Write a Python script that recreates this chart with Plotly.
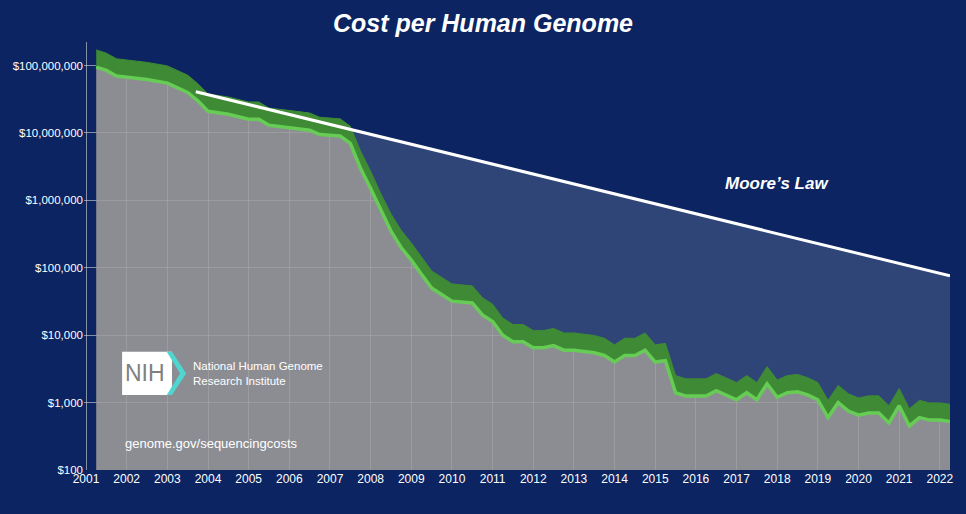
import plotly.graph_objects as go
import math

years = [2001.25,2001.5,2001.75,2002,2002.5,2003,2003.5,2003.75,2004,2004.5,2005,2005.25,2005.5,2006,2006.5,2006.75,2007.25,2007.5,
         2007.75,2008,2008.25,2008.5,2008.75,2009,2009.25,2009.5,2010,2010.5,2010.75,2011,2011.25,2011.5,2011.75,2012,2012.25,
         2012.5,2012.75,2013,2013.5,2013.75,2014,2014.25,2014.5,2014.75,2015,2015.25,2015.5,2015.75,2016,2016.25,2016.5,2016.75,
         2017,2017.25,2017.5,2017.75,2018,2018.25,2018.5,2018.75,2019,2019.25,2019.5,2019.75,2020,2020.25,2020.5,2020.75,2021,
         2021.25,2021.5,2021.75,2022,2022.25]
cost = [95e6,85e6,70e6,67e6,62e6,55e6,40e6,30e6,21e6,19e6,16e6,16e6,13e6,12e6,11e6,9.5e6,9e6,7e6,
        3e6,1.5e6,700e3,350e3,200e3,130e3,80e3,50e3,32e3,30e3,20e3,16e3,10e3,8e3,8e3,6.5e3,6.5e3,
        7e3,6e3,6e3,5.5e3,5e3,4e3,5e3,5e3,6e3,4e3,4.2e3,1.4e3,1.25e3,1.25e3,1.25e3,1.5e3,1.3e3,
        1.1e3,1.4e3,1.1e3,1.9e3,1.2e3,1.4e3,1.45e3,1.3e3,1.1e3,600,1e3,750,650,700,700,500,900,
        450,600,550,550,525]
moore_x = [2003.7, 2022.25]
moore_y = [41e6, 76e3]
band_factor = 1.8
tick_vals = [1e2,1e3,1e4,1e5,1e6,1e7,1e8]
tick_text = ["$100","$1,000","$10,000","$100,000","$1,000,000","$10,000,000","$100,000,000"]
year_ticks = list(range(2001, 2023))

navy = "#0c2461"
fig = go.Figure()
fig.add_trace(go.Scatter(x=years, y=[100]*len(years), mode="lines", line=dict(width=0), hoverinfo="skip"))
fig.add_trace(go.Scatter(x=years, y=cost, mode="lines", line=dict(width=0), fill="tonexty",
                         fillcolor="rgba(160,157,155,0.87)", hoverinfo="skip"))
fig.add_trace(go.Scatter(x=years, y=[1e9]*len(years), mode="lines", line=dict(width=0), fill="tonexty",
                         fillcolor=navy, hoverinfo="skip"))
def moore(x):
    t = (x - moore_x[0]) / (moore_x[1] - moore_x[0])
    return 10 ** (math.log10(moore_y[0]) + t * (math.log10(moore_y[1]) - math.log10(moore_y[0])))
mx = [x for x in years if x >= moore_x[0]]
mdat = [c for x, c in zip(years, cost) if x >= moore_x[0]]
fig.add_trace(go.Scatter(x=mx, y=mdat, mode="lines", line=dict(width=0), hoverinfo="skip"))
fig.add_trace(go.Scatter(x=mx, y=[moore(x) for x in mx], mode="lines", line=dict(width=0), fill="tonexty",
                         fillcolor="#2f4577", hoverinfo="skip"))
fig.add_trace(go.Scatter(x=years, y=cost, mode="lines", line=dict(width=0), hoverinfo="skip"))
fig.add_trace(go.Scatter(x=years, y=[c * band_factor for c in cost], mode="lines",
                         line=dict(width=1, color="#3f8a35"), fill="tonexty", fillcolor="#3f8a35", hoverinfo="skip"))
fig.add_trace(go.Scatter(x=years, y=cost, mode="lines", line=dict(width=3.5, color="#66cc55"), hoverinfo="skip"))
fig.add_trace(go.Scatter(x=moore_x, y=moore_y, mode="lines", line=dict(width=3, color="white"), hoverinfo="skip"))

grid = "rgba(215,215,215,0.6)"
fig.update_layout(
    width=966, height=514, showlegend=False,
    paper_bgcolor=navy, plot_bgcolor=navy,
    margin=dict(l=84, r=16, t=42, b=44),
    font=dict(family="Liberation Sans, Arial, sans-serif", color="white", size=12),
    title=dict(text="<b><i>Cost per Human Genome</i></b>", x=0.5, xanchor="center", y=0.955, yanchor="middle",
               font=dict(size=25, color="white")),
    xaxis=dict(range=[2000.95, 2022.25], tickvals=year_ticks, showgrid=True, gridcolor=grid, gridwidth=1,
               zeroline=False, ticks="", automargin=False, tickfont=dict(size=12, color="white")),
    yaxis=dict(type="log", range=[2, 8.35], tickvals=tick_vals, ticktext=tick_text, showgrid=True,
               gridcolor=grid, gridwidth=1, zeroline=False, ticks="", automargin=False,
               tickfont=dict(size=11.5, color="white")),
)
fig.add_annotation(text="<b><i>Moore’s Law</i></b>", x=2018.0, y=6.255, showarrow=False,
                   font=dict(size=17, color="white"))
fig.add_annotation(text="genome.gov/sequencingcosts", xref="paper", yref="paper", x=0.045, y=0.04,
                   xanchor="left", showarrow=False, font=dict(size=13, color="white"))
fig.add_shape(type="rect", xref="paper", yref="paper", x0=0.044, x1=0.1016, y0=0.175, y1=0.276,
              fillcolor="white", line=dict(width=0), layer="above")
fig.add_shape(type="path", xref="paper", yref="paper",
              path="M 0.1016 0.276 L 0.118 0.2255 L 0.1016 0.175 L 0.0955 0.175 L 0.111 0.2255 L 0.0955 0.276 Z",
              fillcolor="#4fd6d0", line=dict(width=0), layer="above")
fig.add_annotation(text="NIH", xref="paper", yref="paper", x=0.045, y=0.2255, xanchor="left", yanchor="middle",
                   showarrow=False, font=dict(size=23, color="#808080"))
fig.add_annotation(text="National Human Genome<br>Research Institute", xref="paper", yref="paper",
                   x=0.124, y=0.19, xanchor="left", align="left", showarrow=False,
                   font=dict(size=11.5, color="white"))
fig.write_html("out.html", config={"displayModeBar": False},
               post_script="document.body.style.margin='0';document.body.style.background='#0c2461';")
